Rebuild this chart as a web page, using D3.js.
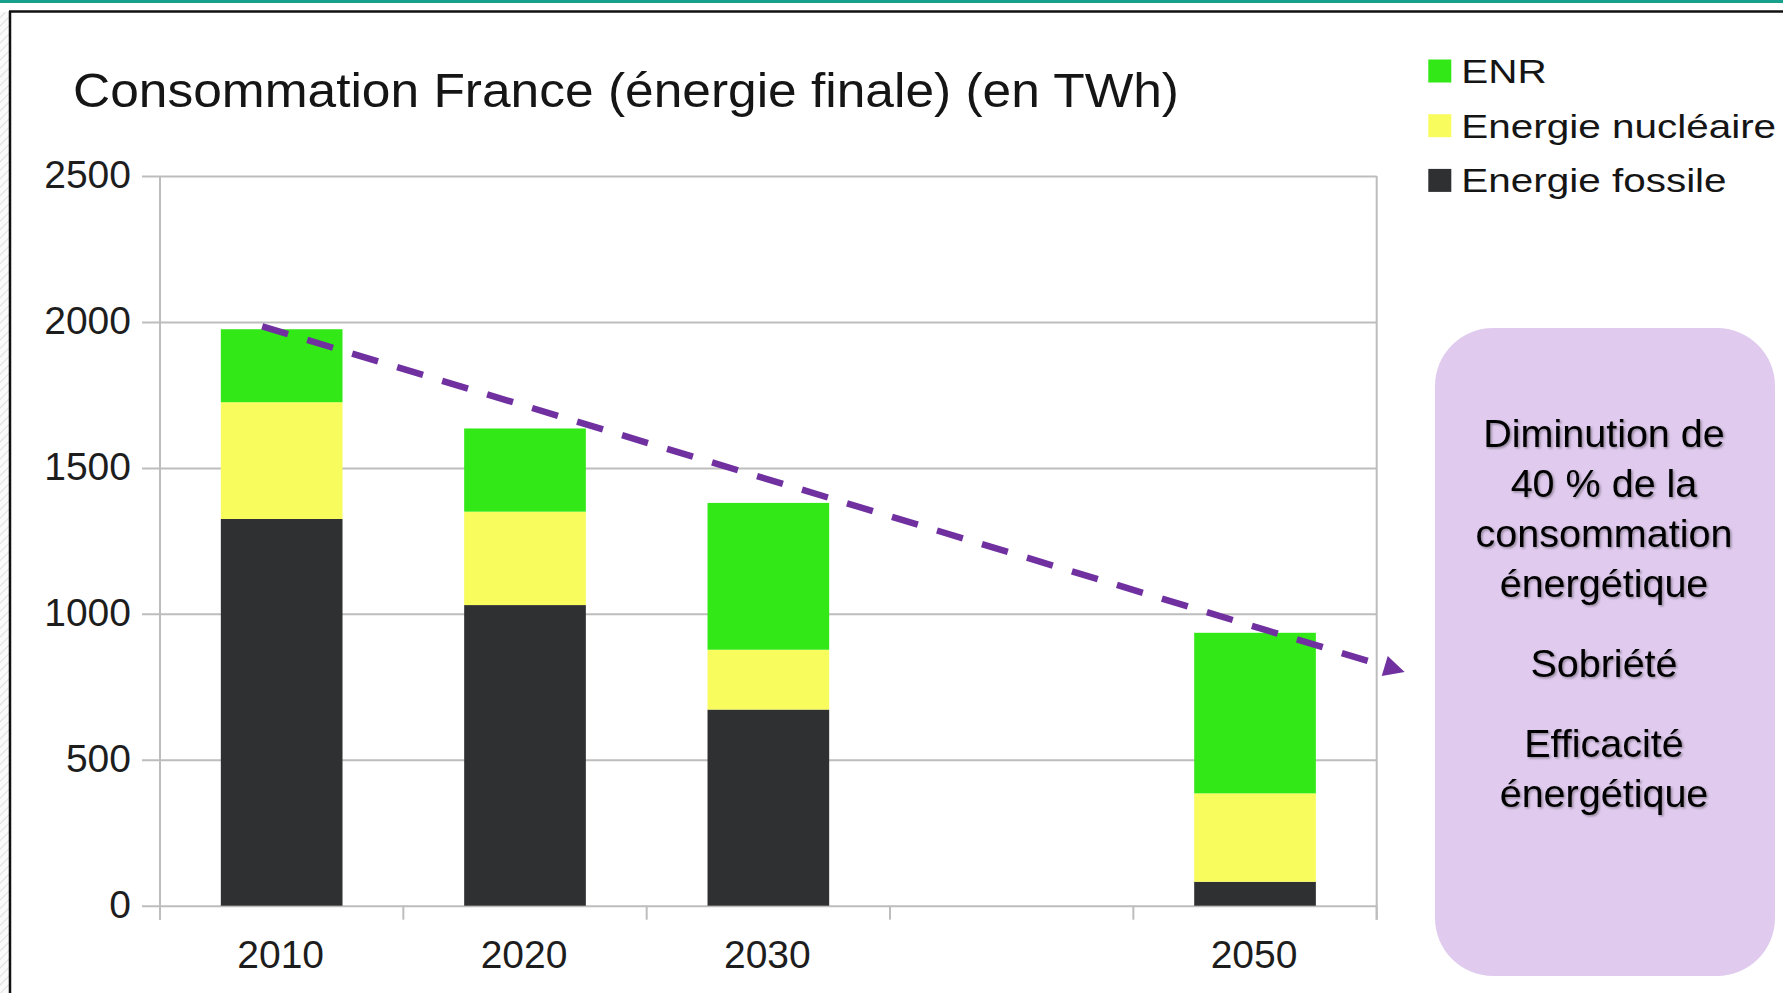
<!DOCTYPE html>
<html>
<head>
<meta charset="utf-8">
<script src="https://cdn.jsdelivr.net/npm/d3@7"></script>
<style>
  body { margin: 0; background: #fff; }
  svg { display: block; }
  text { font-family: "Liberation Sans", Arial, sans-serif; }
</style>
</head>
<body>
<svg id="chart"></svg>
<script>
// data
const years = ["2010", "2020", "2030", "2040", "2050"];
const xLabels = ["2010", "2020", "2030", "", "2050"];
const fossile = [1325, 1030, 672, null, 82];
const nucleaire = [400, 320, 205, null, 303];
const enr = [250, 285, 503, null, 550];
const seriesKeys = ["fossile", "nucleaire", "enr"];
const seriesNames = ["Energie fossile", "Energie nucléaire", "ENR"];
const seriesColors = ["#2f3031", "#f8fc5c", "#33e817"];
const yTicks = [0, 500, 1000, 1500, 2000, 2500];
const title = "Consommation France (énergie finale) (en TWh)";
const boxLines = [
  ["Diminution de", "40 % de la", "consommation", "énergétique"],
  ["Sobriété"],
  ["Efficacité", "énergétique"]
];
// trend arrow: from ~1985 TWh over 2010 down to ~800 TWh past 2050
const trendFrom = 1985;
const trendTo = 800;

const W = 1783, H = 993;
const svg = d3.select("#chart").attr("width", W).attr("height", H);
const defs = svg.append("defs");

// page decoration (slide frame)
const hatch = defs.append("pattern")
  .attr("id", "hatch").attr("width", 6).attr("height", 6)
  .attr("patternUnits", "userSpaceOnUse")
  .attr("patternTransform", "rotate(45)");
hatch.append("rect").attr("width", 6).attr("height", 6).attr("fill", "#fafafa");
hatch.append("line").attr("x1", 0).attr("y1", 0).attr("x2", 0).attr("y2", 6)
  .attr("stroke", "#dedede").attr("stroke-width", 2);

svg.append("rect").attr("width", W).attr("height", H).attr("fill", "#fff");
svg.append("rect").attr("x", 0).attr("y", 12).attr("width", 9).attr("height", H).attr("fill", "url(#hatch)");
svg.append("rect").attr("x", 0).attr("y", 0).attr("width", W).attr("height", 3).attr("fill", "#18a08e");
svg.append("line").attr("x1", 9).attr("x2", W).attr("y1", 11.5).attr("y2", 11.5)
  .attr("stroke", "#111").attr("stroke-width", 2.5);
svg.append("line").attr("x1", 10).attr("x2", 10).attr("y1", 11).attr("y2", H)
  .attr("stroke", "#111").attr("stroke-width", 2.5);

// chart area
const plot = { left: 160, right: 1376.7, top: 176, bottom: 905.7 };

const x = d3.scaleBand()
  .domain(years)
  .range([plot.left, plot.right])
  .paddingInner(0.5)
  .paddingOuter(0.25);

const y = d3.scaleLinear()
  .domain([0, 2500])
  .range([plot.bottom, plot.top]);

const rows = years.map((yr, i) => ({
  year: yr, fossile: fossile[i], nucleaire: nucleaire[i], enr: enr[i]
})).filter(d => d.fossile != null);

const stack = d3.stack().keys(seriesKeys);
const layers = stack(rows);

// gridlines + y axis
const yAxis = d3.axisLeft(y)
  .tickValues(yTicks)
  .tickSize(-(plot.right - plot.left))
  .tickPadding(13)
  .tickFormat(d3.format("d"));

const gy = svg.append("g")
  .attr("transform", `translate(${plot.left},0)`)
  .call(yAxis);
gy.select(".domain").remove();
gy.selectAll(".tick line")
  .attr("x1", -18)
  .attr("stroke", "#bdbdbd")
  .attr("stroke-width", 2);
gy.selectAll(".tick text")
  .attr("x", -29)
  .attr("dy", "0.3em")
  .attr("fill", "#1d1d1d")
  .style("font-size", "39px");

// vertical frame lines of the plot
svg.append("line")
  .attr("x1", plot.left).attr("x2", plot.left)
  .attr("y1", plot.top).attr("y2", plot.bottom + 14)
  .attr("stroke", "#bdbdbd").attr("stroke-width", 2);
svg.append("line")
  .attr("x1", plot.right).attr("x2", plot.right)
  .attr("y1", plot.top).attr("y2", plot.bottom + 14)
  .attr("stroke", "#bdbdbd").attr("stroke-width", 2);

// x axis: ticks at band boundaries, labels at centers
const step = x.step();
const edges = d3.range(years.length + 1).map(i => plot.left + i * step);
svg.append("g").selectAll("line")
  .data(edges)
  .join("line")
  .attr("x1", d => d).attr("x2", d => d)
  .attr("y1", plot.bottom).attr("y2", plot.bottom + 14)
  .attr("stroke", "#bdbdbd").attr("stroke-width", 2);

svg.append("g").selectAll("text")
  .data(years)
  .join("text")
  .attr("x", d => x(d) + x.bandwidth() / 2 - 1)
  .attr("y", 968)
  .attr("text-anchor", "middle")
  .attr("fill", "#1d1d1d")
  .style("font-size", "39px")
  .text((d, i) => xLabels[i]);

// stacked bars
svg.append("g").selectAll("g")
  .data(layers)
  .join("g")
  .attr("fill", (d, i) => seriesColors[i])
  .selectAll("rect")
  .data(d => d)
  .join("rect")
  .attr("x", d => x(d.data.year))
  .attr("width", x.bandwidth())
  .attr("y", d => y(d[1]))
  .attr("height", d => y(d[0]) - y(d[1]));

// title
svg.append("text")
  .attr("x", 73)
  .attr("y", 107)
  .attr("fill", "#151515")
  .attr("textLength", 1106)
  .attr("lengthAdjust", "spacingAndGlyphs")
  .style("font-size", "48.5px")
  .text(title);

// legend (top to bottom: ENR, nucléaire, fossile)
const legendOrder = [2, 1, 0];
const legend = svg.append("g").selectAll("g")
  .data(legendOrder)
  .join("g")
  .attr("transform", (d, i) => `translate(1428.3,${59.5 + i * 54.7})`);
legend.append("rect")
  .attr("width", 23).attr("height", 23)
  .attr("fill", d => seriesColors[d]);
legend.append("text")
  .attr("transform", "translate(33,23.5) scale(1.19,1)")
  .attr("fill", "#151515")
  .style("font-size", "34px")
  .text(d => seriesNames[d]);

// trend arrow
defs.append("marker")
  .attr("id", "arrow")
  .attr("viewBox", "0 0 10 10")
  .attr("refX", 2).attr("refY", 5)
  .attr("markerWidth", 3.8).attr("markerHeight", 3.2)
  .attr("orient", "auto")
  .attr("markerUnits", "strokeWidth")
  .append("path")
  .attr("d", "M0,0 L10,5 L0,10 Z")
  .attr("fill", "#7030a0");

svg.append("line")
  .attr("x1", x("2010") + x.bandwidth() * 0.34)
  .attr("y1", y(trendFrom))
  .attr("x2", plot.right + 12)
  .attr("y2", y(trendTo) - 5)
  .attr("stroke", "#7030a0")
  .attr("stroke-width", 6.5)
  .attr("stroke-dasharray", "27 20")
  .attr("marker-end", "url(#arrow)");

// side note box
const shadow = defs.append("filter").attr("id", "tshadow")
  .attr("x", "-10%").attr("y", "-20%").attr("width", "120%").attr("height", "150%");
shadow.append("feDropShadow")
  .attr("dx", 1.5).attr("dy", 1.5).attr("stdDeviation", 1)
  .attr("flood-color", "#000").attr("flood-opacity", 0.35);

const box = { x: 1435, y: 328, w: 340, h: 648, r: 58 };
svg.append("rect")
  .attr("x", box.x).attr("y", box.y)
  .attr("width", box.w).attr("height", box.h)
  .attr("rx", box.r).attr("ry", box.r)
  .attr("fill", "#e0cbee");

const cx = box.x + box.w / 2 - 1;
const groupStarts = [447, 677, 756.5];
const lineGap = 50;
const noteText = svg.append("g").attr("filter", "url(#tshadow)");
boxLines.forEach((lines, gi) => {
  lines.forEach((ln, li) => {
    noteText.append("text")
      .attr("x", cx)
      .attr("y", groupStarts[gi] + li * lineGap)
      .attr("text-anchor", "middle")
      .attr("fill", "#000")
      .style("font-size", "39.5px")
      .text(ln);
  });
});
</script>
</body>
</html>
